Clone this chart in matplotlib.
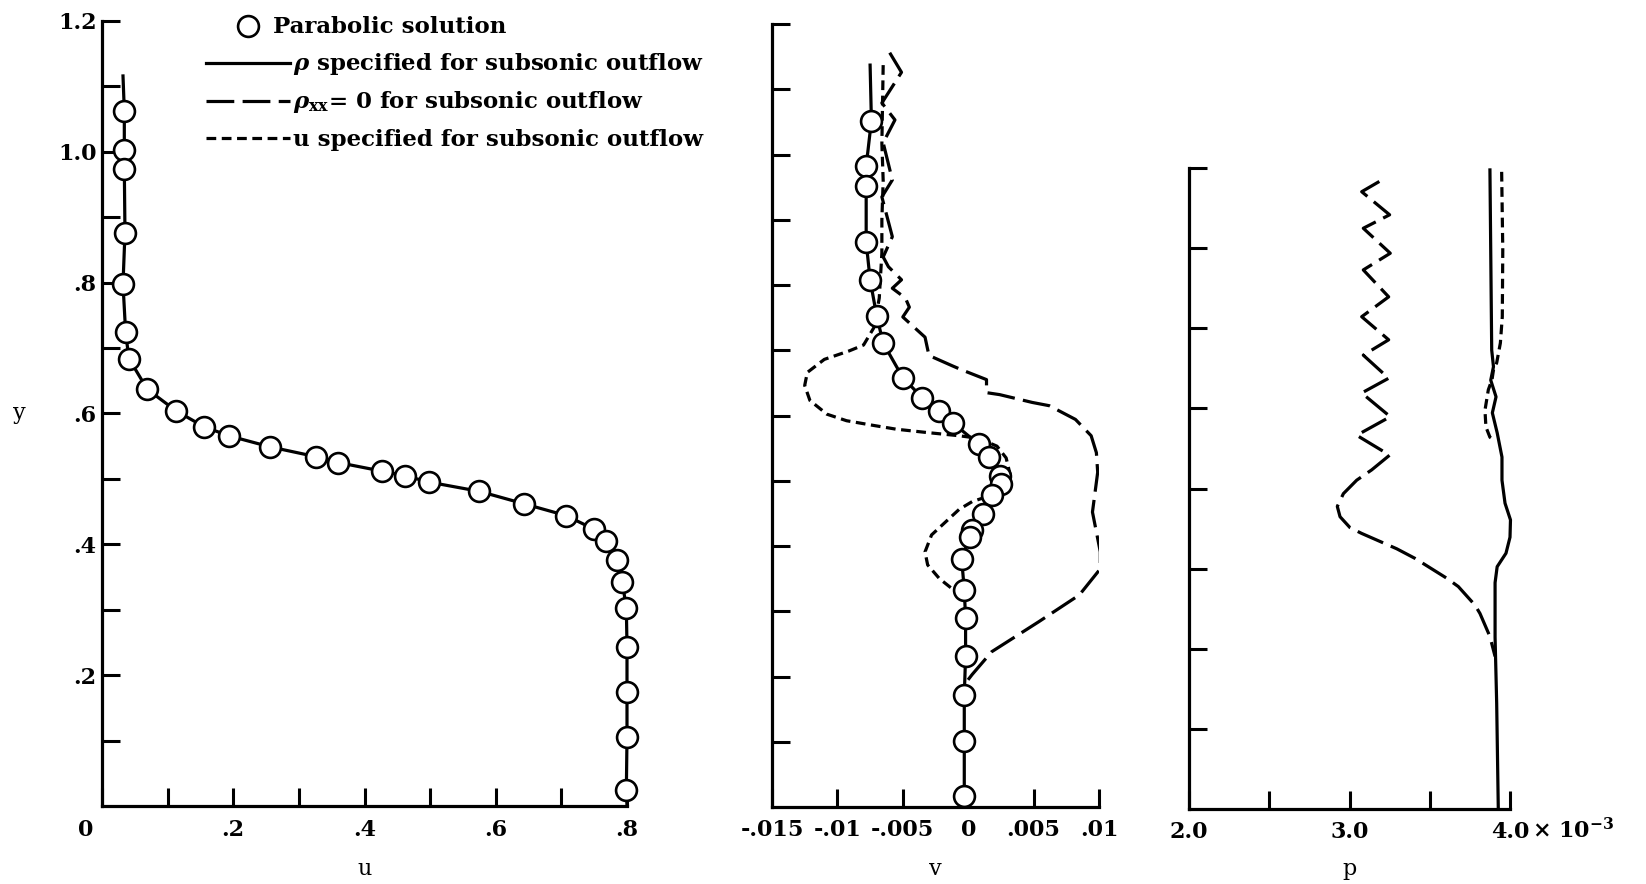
import numpy as np
import matplotlib.pyplot as plt
from matplotlib.lines import Line2D
from matplotlib import transforms

plt.rcParams['font.family'] = ['DejaVu Serif']
plt.rcParams['font.weight'] = 'bold'
plt.rcParams['mathtext.fontset'] = 'dejavuserif'
plt.rcParams['lines.scale_dashes'] = False

W, H = 1646, 884

###################################################################
# Data

# left panel: u profile
u_par = [0.034, 0.034, 0.034, 0.035, 0.032, 0.036, 0.041, 0.069, 0.113, 0.155,
         0.193, 0.256, 0.326, 0.360, 0.426, 0.461, 0.499, 0.575, 0.643, 0.707,
         0.750, 0.768, 0.785, 0.793, 0.799, 0.800, 0.800, 0.800, 0.799]
y_par_u = [1.063, 1.003, 0.974, 0.876, 0.798, 0.724, 0.684, 0.637, 0.604, 0.580,
           0.566, 0.549, 0.534, 0.525, 0.512, 0.505, 0.495, 0.481, 0.462, 0.444,
           0.423, 0.405, 0.376, 0.342, 0.302, 0.243, 0.174, 0.105, 0.024]
u_rho = [0.032] + u_par + [0.800]
y_rho_u = [1.116] + y_par_u + [0.0]

# middle panel: v profile
v_par = [-0.0074, -0.0078, -0.0078, -0.0078, -0.0075, -0.0070, -0.0065, -0.0050,
         -0.0035, -0.0022, -0.0012, 0.0008, 0.0016, 0.0024, 0.0025, 0.0018,
         0.0011, 0.0003, 0.0001, -0.0005, -0.0003, -0.0002, -0.0002, -0.0003,
         -0.0003, -0.0003]
y_par_v = [1.052, 0.982, 0.951, 0.866, 0.808, 0.753, 0.711, 0.658, 0.627, 0.607,
           0.589, 0.556, 0.536, 0.508, 0.495, 0.478, 0.449, 0.424, 0.414, 0.380,
           0.333, 0.289, 0.231, 0.171, 0.101, 0.017]
v_rho = [-0.0075] + v_par + [-0.0003]
y_rho_v = [1.137] + y_par_v + [0.0]

v_rhoxx = [-0.0060, -0.0051, -0.0066, -0.0056, -0.0065, -0.0058, -0.0066, -0.0058,
           -0.0065, -0.0061, -0.0051, -0.0058, -0.0048, -0.0045, -0.0050, -0.0033,
           -0.0030, -0.0012, -0.0005, 0.0014, 0.0014, 0.0024, 0.0049, 0.0062,
           0.0082, 0.0094, 0.0098, 0.0099, 0.0095, 0.0101, 0.0101, 0.0085,
           0.0054, 0.0018, 0.0003, -0.0002]
y_rhoxx_v = [1.156, 1.126, 1.079, 1.053, 1.018, 0.961, 0.935, 0.874, 0.843, 0.828,
             0.808, 0.795, 0.780, 0.766, 0.751, 0.720, 0.692, 0.676, 0.670, 0.655,
             0.635, 0.632, 0.620, 0.615, 0.594, 0.569, 0.543, 0.513, 0.452, 0.391,
             0.365, 0.325, 0.284, 0.238, 0.203, 0.190]

v_uspec = [-0.0065, -0.0066, -0.0065, -0.0066, -0.0066, -0.0068, -0.0072, -0.0080,
           -0.0091, -0.0110, -0.0123, -0.0125, -0.0121, -0.0108, -0.0093, -0.0073,
           -0.0055, -0.0032, -0.0007, 0.0008, 0.0022, 0.0029, 0.0032, 0.0032,
           0.0015, 0.0003, -0.0007, -0.0028, -0.0033, -0.0031, -0.0022, -0.0012,
           -0.0003]
y_uspec_v = [1.137, 1.017, 0.960, 0.900, 0.849, 0.780, 0.735, 0.708, 0.699, 0.686,
             0.666, 0.646, 0.623, 0.602, 0.592, 0.585, 0.579, 0.574, 0.569, 0.565,
             0.553, 0.535, 0.510, 0.490, 0.476, 0.468, 0.456, 0.417, 0.391, 0.371,
             0.350, 0.334, 0.325]

# right panel: p profile (units of 1e-3), own vertical scale 0..1
p_rho = [3.875, 3.886, 3.897, 3.880, 3.913, 3.890, 3.920, 3.950, 3.950, 3.969,
         4.003, 4.000, 3.975, 3.920, 3.907, 3.907, 3.917, 3.927]
y_rho_p = [0.997, 0.716, 0.690, 0.669, 0.643, 0.618, 0.587, 0.549, 0.513, 0.477,
           0.451, 0.424, 0.399, 0.378, 0.353, 0.268, 0.165, 0.0]

p_uspec = [3.948, 3.955, 3.952, 3.940, 3.917, 3.897, 3.888, 3.865, 3.844, 3.850,
           3.875, 3.907]
y_uspec_p = [0.994, 0.872, 0.768, 0.727, 0.696, 0.685, 0.670, 0.654, 0.622, 0.596,
             0.580, 0.574]

p_rhoxx = [3.186, 3.076, 3.250, 3.086, 3.254, 3.086, 3.244, 3.076, 3.244, 3.086,
           3.244, 3.076, 3.254, 3.045, 3.250, 3.138, 3.045, 2.962, 2.924, 2.941,
           3.003, 3.075, 3.294, 3.408, 3.606, 3.678, 3.782, 3.813, 3.875, 3.907]
y_rhoxx_p = [0.979, 0.963, 0.927, 0.906, 0.867, 0.841, 0.799, 0.768, 0.732, 0.708,
             0.672, 0.649, 0.612, 0.583, 0.552, 0.529, 0.513, 0.492, 0.472, 0.456,
             0.439, 0.430, 0.406, 0.391, 0.360, 0.347, 0.318, 0.305, 0.269, 0.238]

# ticks
u_ticks = [0, 0.1, 0.2, 0.3, 0.4, 0.5, 0.6, 0.7, 0.8]
u_labels = ['0', '', '.2', '', '.4', '', '.6', '', '.8']
y_ticks = [0.1, 0.2, 0.3, 0.4, 0.5, 0.6, 0.7, 0.8, 0.9, 1.0, 1.1, 1.2]
y_labels = ['', '.2', '', '.4', '', '.6', '', '.8', '', '1.0', '', '1.2']
v_ticks = [-0.015, -0.01, -0.005, 0, 0.005, 0.01]
v_labels = ['-.015', '-.01', '-.005', '0', '.005', '.01']
p_ticks = [2.0, 2.5, 3.0, 3.5, 4.0]
p_labels = ['2.0', '', '3.0', '', '4.0']
yp_ticks = [0.125, 0.25, 0.375, 0.5, 0.625, 0.75, 0.875, 1.0]

legend_labels = ['Parabolic solution',
                 r'$\rho$ specified for subsonic outflow',
                 r'$\rho_{\mathbf{xx}}$= 0 for subsonic outflow',
                 'u specified for subsonic outflow']

###################################################################
# Helpers

LW = 2.3
FS = 16
LONG = (0, (20, 6))
SHORT = (0, (7, 4))


def px_axes(fig, left, right, bottom, top):
    return fig.add_axes([left / W, 1 - bottom / H, (right - left) / W, (bottom - top) / H])


def style_axes(ax):
    for s in ['top', 'right']:
        ax.spines[s].set_visible(False)
    for s in ['left', 'bottom']:
        ax.spines[s].set_linewidth(2.3)
    ax.tick_params(direction='in', length=13, width=2.2, labelsize=FS)
    ax.tick_params(axis='x', pad=9)
    ax.tick_params(axis='y', pad=4)
    ax.patch.set_visible(False)


def circles(ax, x, y):
    ax.plot(x, y, 'o', ms=15, mfc='white', mec='black', mew=1.9,
            zorder=5, clip_on=False)


fig = plt.figure(figsize=(W / 100, H / 100), dpi=100)

###################################################################
# u panel
ax1 = px_axes(fig, 102, 627, 806, 21)
ax1.plot(u_rho, y_rho_u, color='black', lw=LW, zorder=3, clip_on=False)
circles(ax1, u_par, y_par_u)
ax1.set_xlim(0, 0.8)
ax1.set_ylim(0, 1.2)
ax1.set_xticks(u_ticks)
ax1.set_xticklabels(u_labels)
ax1.set_yticks(y_ticks)
ax1.set_yticklabels(y_labels)
style_axes(ax1)
# the "0" sits a little left of the corner on the original
lab0 = ax1.get_xticklabels()[0]
lab0.set_transform(lab0.get_transform() + transforms.ScaledTranslation(-12 / 72, 0, fig.dpi_scale_trans))
ax1.set_xlabel('u', fontsize=FS, va='baseline')
ax1.xaxis.set_label_coords(0.5, (806 - 875) / 785)
ax1.set_ylabel('y', fontsize=FS, rotation=0, va='center', ha='center')
ax1.yaxis.set_label_coords((19 - 102) / 525, (806 - 413) / 785)

###################################################################
# v panel
ax2 = px_axes(fig, 772, 1099, 807, 24)
ax2.plot(v_rhoxx, y_rhoxx_v, color='black', lw=LW, ls=LONG, zorder=2)
ax2.plot(v_uspec, y_uspec_v, color='black', lw=LW, ls=SHORT, zorder=2)
ax2.plot(v_rho, y_rho_v, color='black', lw=LW, zorder=3)
circles(ax2, v_par, y_par_v)
ax2.set_xlim(-0.015, 0.01)
ax2.set_ylim(0, 1.2)
ax2.set_xticks(v_ticks)
ax2.set_xticklabels(v_labels)
ax2.set_yticks(y_ticks)
ax2.set_yticklabels([])
style_axes(ax2)
ax2.set_xlabel('v', fontsize=FS, va='baseline')
ax2.xaxis.set_label_coords(0.5, (807 - 875) / 783)

###################################################################
# p panel
ax3 = px_axes(fig, 1189, 1510, 809, 168)
ax3.plot(p_rhoxx, y_rhoxx_p, color='black', lw=LW, ls=LONG, zorder=2)
ax3.plot(p_uspec, y_uspec_p, color='black', lw=LW, ls=SHORT, zorder=2)
ax3.plot(p_rho, y_rho_p, color='black', lw=LW, zorder=3, clip_on=False)
ax3.set_xlim(2.0, 4.0)
ax3.set_ylim(0, 1.0)
ax3.set_xticks(p_ticks)
ax3.set_xticklabels(p_labels)
ax3.set_yticks(yp_ticks)
ax3.set_yticklabels([])
style_axes(ax3)
ax3.set_xlabel('p', fontsize=FS, va='baseline')
ax3.xaxis.set_label_coords(0.5, (809 - 875) / 641)
ax3.annotate(r'$\times$ 10$^{-3}$', xy=(4.0, 0), xycoords=ax3.get_xaxis_transform(),
             xytext=(16, -6.5), textcoords='offset points', ha='left', va='top',
             fontsize=FS)

###################################################################
# legend, drawn by hand so the samples sit where they do on the original
LFS = 16.5
rows_line = [26, 63, 101, 138]
rows_text = [33, 70, 108, 146]
styles = [None, '-', LONG, SHORT]
for i, lab in enumerate(legend_labels):
    yl = 1 - rows_line[i] / H
    if i == 0:
        fig.add_artist(Line2D([248 / W], [yl], marker='o', ms=15, mfc='white',
                              mec='black', mew=1.9, ls='none',
                              transform=fig.transFigure))
        x0 = 273
    else:
        fig.add_artist(Line2D([206 / W, 290 / W], [yl, yl], color='black', lw=LW,
                              ls=styles[i], transform=fig.transFigure))
        x0 = 293
    fig.text(x0 / W, 1 - rows_text[i] / H, lab, fontsize=LFS, va='baseline', ha='left')

fig.savefig('out.png', dpi=100)
